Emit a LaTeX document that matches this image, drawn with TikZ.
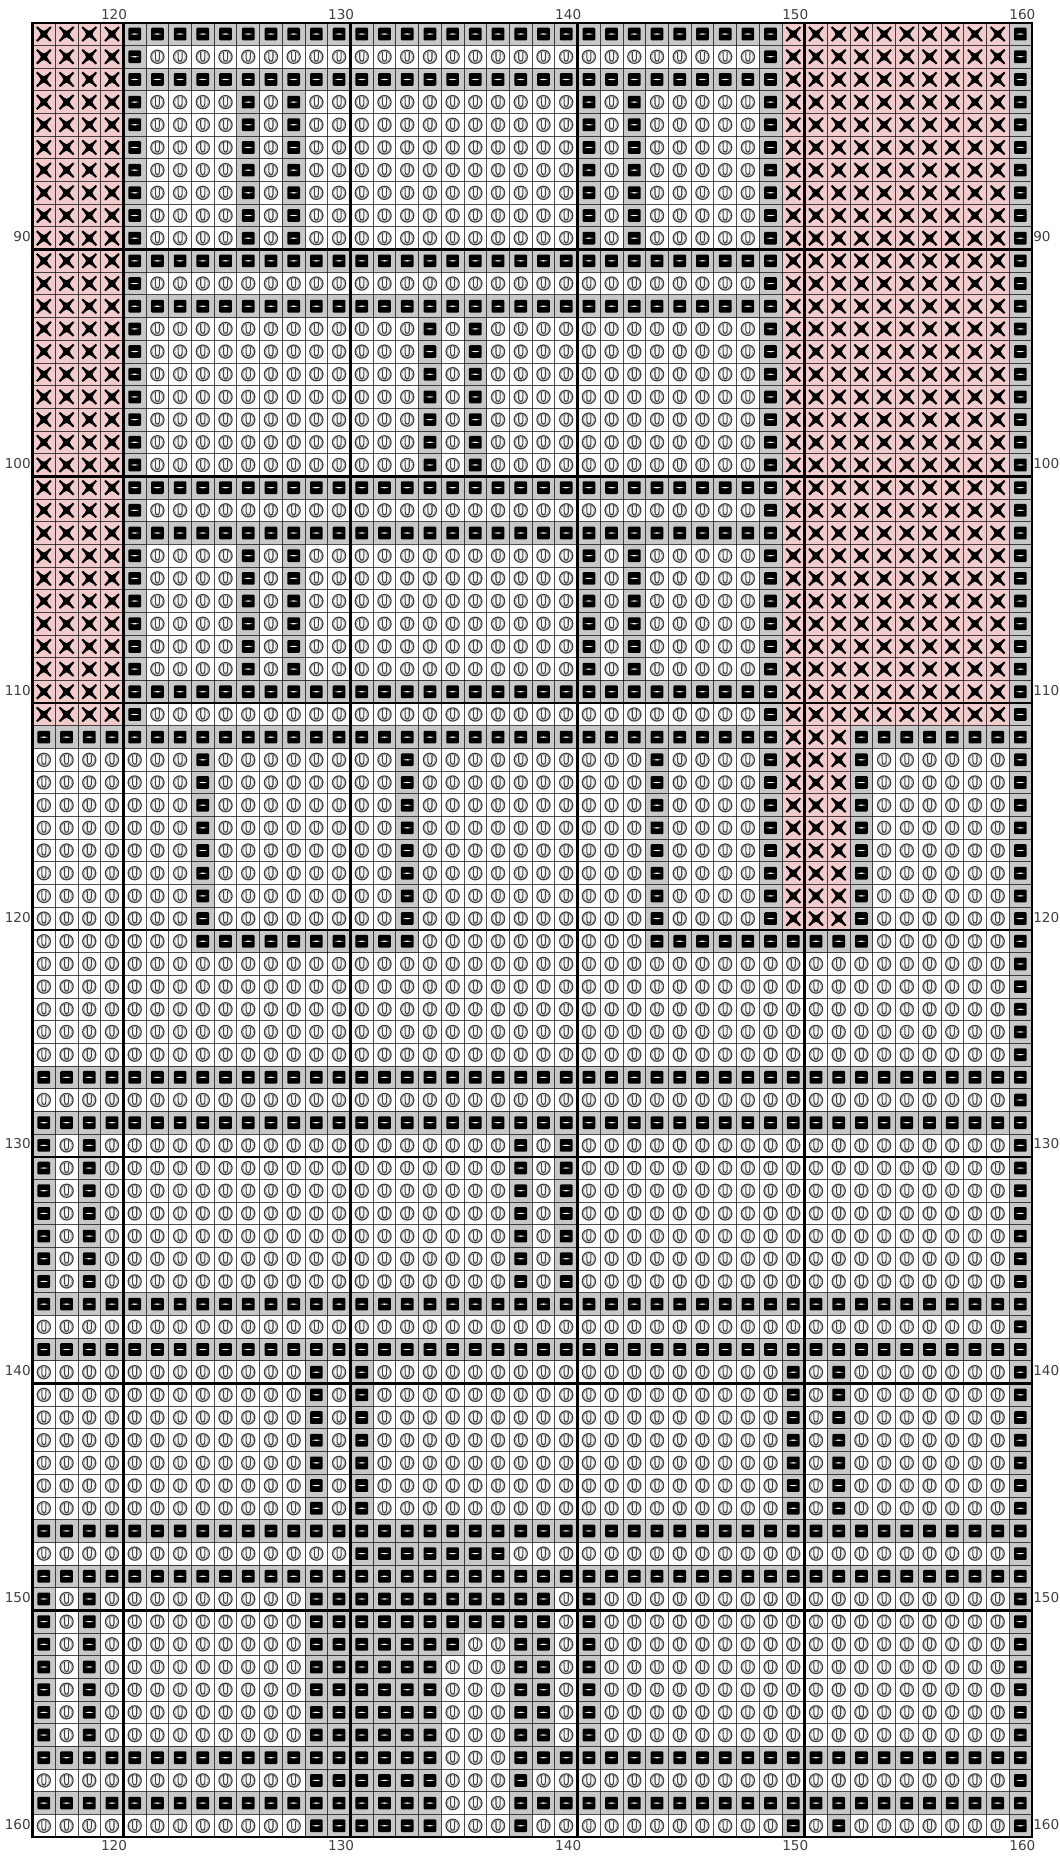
\documentclass[tikz,border=0pt]{standalone}
\usepackage{fontspec}
\newfontfamily\labfont{DejaVu Sans}
\definecolor{pinkc}{HTML}{F2CCCC}
\definecolor{grayc}{HTML}{C8C8C8}
\definecolor{ocol}{HTML}{404040}
\definecolor{ocolb}{HTML}{909090}
\definecolor{labc}{HTML}{404040}
\tikzset{
  thinline/.style={draw=black, draw opacity=0.7, line width=0.6pt},
  thickline/.style={draw=black, line width=1.8pt, line cap=rect},
  lab/.style={font=\labfont\fontsize{10.2pt}{12pt}\selectfont, text=labc, inner sep=0pt}
}
\newsavebox\bX \newsavebox\bG \newsavebox\bO
\newcount\kkx
\def\cellsetup{%
  \pgfsetxvec{\pgfpoint{17.0325pt}{0pt}}%
  \pgfsetyvec{\pgfpoint{0pt}{-17.01pt}}%
  \pgfpathrectangle{\pgfpointxy{0}{0}}{\pgfpointxy{1}{1}}%
  \pgfusepath{use as bounding box}}
\def\P#1#2{\pgfpointxy{#1}{#2}}
\newcommand\crun[2]{\kkx=#1\relax\crunloop#2}
\def\crunloop#1{\ifnum\kkx>0 \expandafter\crundo\expandafter#1\fi}
\def\crundo#1{\copy\csname b#1\endcsname\advance\kkx by -1\relax\crunloop#1}
\def\dorow#1{\hbox{#1}}
% row definitions, columns 117..160
\def\RowA{\crun4X\crun{29}G\crun{10}X\crun1G}
\def\RowB{\crun4X\crun1G\crun{27}O\crun1G\crun{10}X\crun1G}
\def\RowP{\crun4X\crun1G\crun4O\crun1G\crun1O\crun1G\crun{12}O\crun1G\crun1O\crun1G\crun5O\crun1G\crun{10}X\crun1G}
\def\RowQ{\crun4X\crun1G\crun{12}O\crun1G\crun1O\crun1G\crun{12}O\crun1G\crun{10}X\crun1G}
\def\RowC{\crun{33}G\crun3X\crun8G}
\def\RowD{\crun7O\crun1G\crun8O\crun1G\crun{10}O\crun1G\crun4O\crun1G\crun3X\crun1G\crun6O\crun1G}
\def\RowE{\crun7O\crun{10}G\crun{10}O\crun{10}G\crun6O\crun1G}
\def\RowF{\crun{43}O\crun1G}
\def\RowG{\crun{44}G}
\def\RowH{\crun1G\crun1O\crun1G\crun{18}O\crun1G\crun1O\crun1G\crun{19}O\crun1G}
\def\RowI{\crun{12}O\crun1G\crun1O\crun1G\crun{18}O\crun1G\crun1O\crun1G\crun7O\crun1G}
\def\RowJ{\crun{14}O\crun7G\crun{22}O\crun1G}
\def\RowK{\crun1G\crun1O\crun1G\crun9O\crun{11}G\crun1O\crun1G\crun{18}O\crun1G}
\def\RowL{\crun1G\crun1O\crun1G\crun9O\crun7G\crun2O\crun2G\crun1O\crun1G\crun{18}O\crun1G}
\def\RowM{\crun1G\crun1O\crun1G\crun9O\crun6G\crun3O\crun2G\crun1O\crun1G\crun{18}O\crun1G}
\def\RowN{\crun{18}G\crun3O\crun{23}G}
\def\RowS{\crun{12}O\crun6G\crun3O\crun1G\crun{21}O\crun1G}
\def\RowT{\crun{12}O\crun6G\crun3O\crun1G\crun{11}O\crun1G\crun1O\crun1G\crun7O\crun1G}
\begin{document}
\global\setbox\bX=\hbox{\pgfpicture\cellsetup
  \pgfsetfillcolor{pinkc}%
  \pgfpathrectangle{\P00}{\P11}\pgfusepath{fill}%
  \pgfsetfillcolor{black}%
  \pgfpathmoveto{\P{0.22}{0.16}}%
  \pgfpathquadraticcurveto{\P{0.38}{0.32}}{\P{0.5}{0.36}}%
  \pgfpathquadraticcurveto{\P{0.62}{0.32}}{\P{0.78}{0.16}}%
  \pgfpathlineto{\P{0.84}{0.22}}%
  \pgfpathquadraticcurveto{\P{0.68}{0.38}}{\P{0.64}{0.5}}%
  \pgfpathquadraticcurveto{\P{0.68}{0.62}}{\P{0.84}{0.78}}%
  \pgfpathlineto{\P{0.78}{0.84}}%
  \pgfpathquadraticcurveto{\P{0.62}{0.68}}{\P{0.5}{0.64}}%
  \pgfpathquadraticcurveto{\P{0.38}{0.68}}{\P{0.22}{0.84}}%
  \pgfpathlineto{\P{0.16}{0.78}}%
  \pgfpathquadraticcurveto{\P{0.32}{0.62}}{\P{0.36}{0.5}}%
  \pgfpathquadraticcurveto{\P{0.32}{0.38}}{\P{0.16}{0.22}}%
  \pgfpathclose\pgfusepath{fill}%
\endpgfpicture}%
\global\setbox\bG=\hbox{\pgfpicture\cellsetup
  \pgfsetfillcolor{grayc}%
  \pgfpathrectangle{\P00}{\P11}\pgfusepath{fill}%
  \pgfsetfillcolor{black}%
  \pgfsetcornersarced{\pgfpoint{0.8pt}{0.8pt}}%
  \pgfpathrectangle{\P{0.22}{0.22}}{\pgfpointxy{0.56}{0.56}}\pgfusepath{fill}%
  \pgfsetcornersarced{\pgfpointorigin}%
  \pgfsetfillcolor{white}%
  \pgfpathmoveto{\P{0.31}{0.5}}%
  \pgfpathquadraticcurveto{\P{0.5}{0.44}}{\P{0.69}{0.5}}%
  \pgfpathquadraticcurveto{\P{0.5}{0.56}}{\P{0.31}{0.5}}%
  \pgfpathclose\pgfusepath{fill}%
\endpgfpicture}%
\global\setbox\bO=\hbox{\pgfpicture\cellsetup
  \pgfsetfillcolor{white}%
  \pgfpathrectangle{\P00}{\P11}\pgfusepath{fill}%
  \pgfsetstrokecolor{ocol}\pgfsetlinewidth{0.9pt}%
  \pgfpathcircle{\P{0.5}{0.5}}{4.94pt}\pgfusepath{stroke}%
  \pgfsetstrokecolor{ocolb}\pgfsetlinewidth{0.4pt}%
  \pgfpathcircle{\P{0.5}{0.5}}{4.1pt}\pgfusepath{stroke}%
  \pgfsetstrokecolor{ocol}\pgfsetlinewidth{0.8pt}%
  \pgfpathmoveto{\P{0.41}{0.27}}%
  \pgfpathlineto{\P{0.41}{0.58}}%
  \pgfpathcurveto{\P{0.41}{0.73}}{\P{0.59}{0.73}}{\P{0.59}{0.58}}%
  \pgfpathlineto{\P{0.59}{0.27}}%
  \pgfusepath{stroke}%
\endpgfpicture}%
\begin{tikzpicture}[x=0.75pt, y=-0.75pt]
\useasboundingbox (0,0) rectangle (1060,1856);
\fill[white] (0,0) rectangle (1060,1856);
\node[inner sep=0pt, outer sep=0pt, anchor=north west] (grid) at (32.5,22.7) {\vbox{\offinterlineskip
  % 81-90
  \dorow\RowA \dorow\RowB \dorow\RowA
  \dorow\RowP \dorow\RowP \dorow\RowP \dorow\RowP \dorow\RowP \dorow\RowP \dorow\RowP
  % 91-100
  \dorow\RowA \dorow\RowB \dorow\RowA
  \dorow\RowQ \dorow\RowQ \dorow\RowQ \dorow\RowQ \dorow\RowQ \dorow\RowQ \dorow\RowQ
  % 101-111
  \dorow\RowA \dorow\RowB \dorow\RowA
  \dorow\RowP \dorow\RowP \dorow\RowP \dorow\RowP \dorow\RowP \dorow\RowP
  \dorow\RowA \dorow\RowB
  % 112-120
  \dorow\RowC
  \dorow\RowD \dorow\RowD \dorow\RowD \dorow\RowD \dorow\RowD \dorow\RowD \dorow\RowD \dorow\RowD
  % 121-129
  \dorow\RowE
  \dorow\RowF \dorow\RowF \dorow\RowF \dorow\RowF \dorow\RowF
  \dorow\RowG \dorow\RowF \dorow\RowG
  % 130-139
  \dorow\RowH \dorow\RowH \dorow\RowH \dorow\RowH \dorow\RowH \dorow\RowH \dorow\RowH
  \dorow\RowG \dorow\RowF \dorow\RowG
  % 140-149
  \dorow\RowI \dorow\RowI \dorow\RowI \dorow\RowI \dorow\RowI \dorow\RowI \dorow\RowI
  \dorow\RowG \dorow\RowJ \dorow\RowG
  % 150-160
  \dorow\RowK \dorow\RowK \dorow\RowL
  \dorow\RowM \dorow\RowM \dorow\RowM \dorow\RowM
  \dorow\RowN \dorow\RowS \dorow\RowN \dorow\RowT}};
\begin{scope}[shift={(32.5,22.7)}, x=17.0325pt, y=-17.01pt]
  \foreach \i in {0,...,44} \draw[thinline] (\i,0) -- (\i,80);
  \foreach \j in {0,...,80} \draw[thinline] (0,\j) -- (44,\j);
  \foreach \i in {0,4,14,24,34,44} \draw[thickline] (\i,0) -- (\i,80);
  \foreach \j in {0,10,...,80} \draw[thickline] (0,\j) -- (44,\j);
\end{scope}
\foreach \n in {120,130,140,150,160} {
  \node[lab] (top\n) at ({32.5+(\n-116.5)*22.71+2}, 14.2) {\n};
  \node[lab] (bot\n) at ({32.5+(\n-116.5)*22.71+2}, 1846) {\n};
}
\foreach \n in {90,100,...,160} {
  \node[lab, anchor=east] (lft\n) at (31, {22.7+(\n-80.5)*22.68-1.5}) {\n};
  \node[lab, anchor=west] (rgt\n) at (1033, {22.7+(\n-80.5)*22.68-1.5}) {\n};
}
\end{tikzpicture}
\end{document}
